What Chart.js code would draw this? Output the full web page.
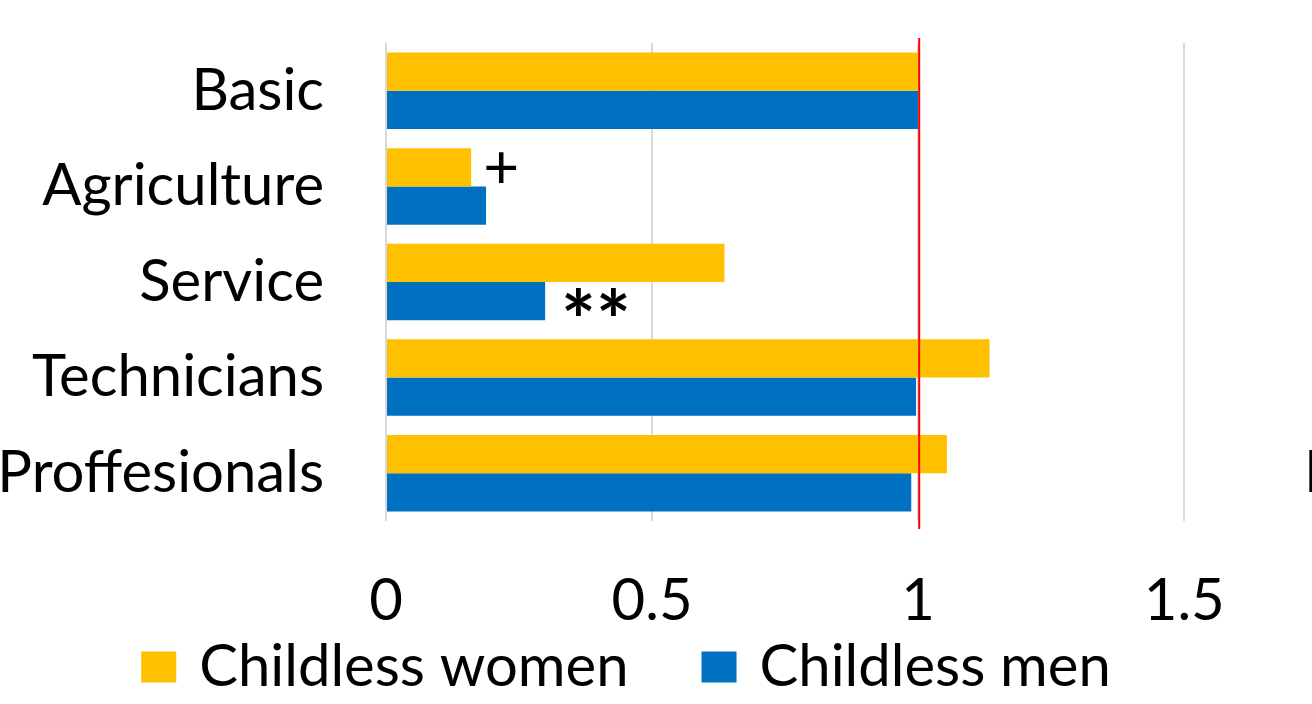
<!DOCTYPE html>
<html>
<head>
<meta charset="utf-8">
<title>Childless women and men by occupation</title>
<script src="https://cdn.jsdelivr.net/npm/chart.js@4.4.1/dist/chart.umd.min.js"></script>
<style>
  html, body { margin: 0; padding: 0; background: #fff; overflow: hidden; }
  #grafico { display: block; }
</style>
</head>
<body>
<canvas id="grafico" width="1312" height="704"></canvas>
<script>
// occupation groups, top to bottom
const categorias = ['Basic', 'Agriculture', 'Service', 'Technicians', 'Proffesionals'];

// ratios relative to the reference group (Basic = 1)
const mulheres = [1.0, 0.16, 0.636, 1.134, 1.054];
const homens = [1.0, 0.188, 0.299, 0.996, 0.987];

// significance marks written next to the bars
const marcasMulheres = ['', '+', '', '', ''];
const marcasHomens = ['', '', '**', '', ''];

const ticksX = [0, 0.5, 1, 1.5];
const valorReferencia = 1;

const tamanhoFonte = 58;
const fonte = tamanhoFonte + 'px Lato';

// red vertical line at the reference value
const linhaReferencia = {
    id: 'linhaReferencia',
    afterDatasetsDraw(chart) {
        const { ctx, scales: { x }, chartArea } = chart;
        const px = x.getPixelForValue(valorReferencia) + 1;
        ctx.save();
        ctx.strokeStyle = '#ff0000';
        ctx.lineWidth = 2;
        ctx.beginPath();
        ctx.moveTo(px, chartArea.top - 5);
        ctx.lineTo(px, chartArea.bottom + 8);
        ctx.stroke();
        ctx.restore();
    }
};

// "+" and "**" after the bar ends
const marcas = {
    id: 'marcas',
    afterDatasetsDraw(chart) {
        const ctx = chart.ctx;
        ctx.save();
        ctx.fillStyle = '#000';
        ctx.textAlign = 'left';
        ctx.textBaseline = 'alphabetic';
        [[marcasMulheres, 0, 15, '62px Lato'], [marcasHomens, 1, 20, 'bold 82px Lato']].forEach(([lista, i, folga, f]) => {
            const meta = chart.getDatasetMeta(i);
            ctx.font = f;
            lista.forEach((m, j) => {
                if (!m) return;
                const barra = meta.data[j];
                const med = ctx.measureText(m);
                const xx = barra.x + folga + med.actualBoundingBoxLeft;
                const yy = barra.y + (med.actualBoundingBoxAscent - med.actualBoundingBoxDescent) / 2;
                ctx.fillText(m, xx, yy);
            });
        });
        ctx.restore();
    }
};

// legend under the axis, plus the clipped label of the next panel
const legenda = {
    id: 'legenda',
    afterDraw(chart) {
        const ctx = chart.ctx;
        const ds = chart.data.datasets;
        const caixa = 35, altCaixa = 31, espacoTexto = 23, espacoItem = 73;
        const yMeio = 667;
        ctx.save();
        ctx.font = fonte;
        ctx.textBaseline = 'middle';
        ctx.textAlign = 'left';
        const larguras = ds.map(d => ctx.measureText(d.label).width);
        const total = larguras.reduce((s, w) => s + caixa + espacoTexto + w, 0) + espacoItem * (ds.length - 1);
        let x = 626 - total / 2;
        ds.forEach((d, i) => {
            ctx.fillStyle = d.backgroundColor;
            ctx.fillRect(x, yMeio - altCaixa / 2, caixa, altCaixa);
            ctx.fillStyle = '#000';
            ctx.fillText(d.label, x + caixa + espacoTexto, yMeio);
            x += caixa + espacoTexto + larguras[i] + espacoItem;
        });

        const y = chart.scales.y;
        const rotulo = categorias[categorias.length - 1];
        const med = ctx.measureText(rotulo);
        ctx.fillText(rotulo, 1309 + med.actualBoundingBoxLeft, y.getPixelForValue(categorias.length - 1));
        ctx.restore();
    }
};

const ctx = document.getElementById('grafico').getContext('2d');
const grafico = new Chart(ctx, {
    type: 'bar',
    data: {
        labels: categorias,
        datasets: [{
            label: 'Childless women',
            data: mulheres,
            backgroundColor: '#ffc000',
            categoryPercentage: 0.8,
            barPercentage: 1.0
        }, {
            label: 'Childless men',
            data: homens,
            backgroundColor: '#0070c0',
            categoryPercentage: 0.8,
            barPercentage: 1.0
        }]
    },
    options: {
        indexAxis: 'y',
        responsive: false,
        animation: false,
        devicePixelRatio: 1,
        layout: { padding: { top: 43, right: 0, bottom: 63, left: 0 } },
        plugins: {
            legend: { display: false },
            tooltip: { enabled: false }
        },
        scales: {
            x: {
                min: 0,
                max: 1.74,
                grid: { color: '#d9d9d9', lineWidth: 2, drawTicks: false },
                border: { display: false },
                afterBuildTicks: (scale) => {
                    scale.ticks = ticksX.map(v => ({ value: v }));
                },
                afterFit: (scale) => {
                    scale.height = 120;
                    scale.paddingLeft = 0;
                    scale.paddingRight = 0;
                },
                ticks: {
                    color: '#000',
                    font: { family: 'Lato', size: tamanhoFonte },
                    padding: 45,
                    maxRotation: 0,
                    callback: (v) => String(v)
                }
            },
            y: {
                grid: { display: false, drawTicks: false },
                border: { display: false },
                afterFit: (scale) => {
                    scale.width = 386;
                    scale.paddingTop = 0;
                    scale.paddingBottom = 0;
                },
                ticks: {
                    color: '#000',
                    font: { family: 'Lato', size: tamanhoFonte },
                    padding: 62
                }
            }
        }
    },
    plugins: [linhaReferencia, marcas, legenda]
});
</script>
</body>
</html>
